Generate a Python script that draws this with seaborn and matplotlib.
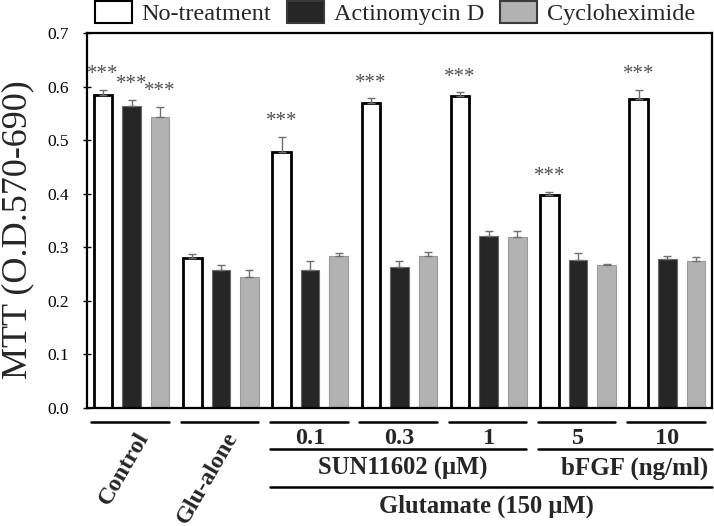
import numpy as np
import pandas as pd
import matplotlib
matplotlib.use("Agg")
import matplotlib.pyplot as plt
import seaborn as sns
from matplotlib.patches import Patch

# ---------------- data ----------------
groups = ["Control", "Glu-alone", "0.1", "0.3", "1", "5", "10"]
treatments = ["No-treatment", "Actinomycin D", "Cycloheximide"]
no_treat = [0.585, 0.280, 0.477, 0.569, 0.582, 0.398, 0.577]
no_treat_err = [0.009, 0.008, 0.029, 0.009, 0.007, 0.006, 0.017]
actino = [0.563, 0.257, 0.258, 0.263, 0.321, 0.277, 0.279]
actino_err = [0.012, 0.010, 0.017, 0.012, 0.009, 0.013, 0.005]
cyclo = [0.544, 0.245, 0.284, 0.284, 0.320, 0.267, 0.275]
cyclo_err = [0.018, 0.013, 0.006, 0.008, 0.010, 0.002, 0.007]
stars_no_treat = [True, False, True, True, True, True, True]
stars_actino = [True, False, False, False, False, False, False]
stars_cyclo = [True, False, False, False, False, False, False]

rotated_labels = ["Control", "Glu-alone"]
dose_labels = ["0.1", "0.3", "1", "5", "10"]
sun_label = "SUN11602 (\u03bcM)"
bfgf_label = "bFGF (ng/ml)"
glu_label = "Glutamate (150 \u03bcM)"
y_label = "MTT (O.D.570-690)"
y_ticks = [0.0, 0.1, 0.2, 0.3, 0.4, 0.5, 0.6, 0.7]

colors = ["#ffffff", "#262626", "#b2b2b2"]
edge_colors = ["#000000", "#6a6a6a", "#9a9a9a"]
edge_widths = [2.0, 0.8, 0.8]

df = pd.DataFrame({
    "group": groups * 3,
    "treatment": [t for t in treatments for _ in groups],
    "value": no_treat + actino + cyclo,
})
errs = [no_treat_err, actino_err, cyclo_err]
stars = [stars_no_treat, stars_actino, stars_cyclo]

# ---------------- figure ----------------
sns.set_theme(style="white")
plt.rcParams["font.family"] = ["Liberation Serif", "DejaVu Serif"]

fig = plt.figure(figsize=(7.14, 5.26), dpi=100)
ax = fig.add_axes([0.1218, 0.2243, 0.8752, 0.7129])

sns.barplot(data=df, x="group", y="value", hue="treatment", order=groups,
            hue_order=treatments, palette=colors, saturation=1, width=0.96,
            gap=0.35, errorbar=None, legend=False, ax=ax)

bar_containers = list(ax.containers)
for ci, cont in enumerate(bar_containers):
    for gi, bar in enumerate(cont.patches):
        bar.set_edgecolor(edge_colors[ci])
        bar.set_linewidth(edge_widths[ci])
        x = bar.get_x() + bar.get_width() / 2
        h = bar.get_height()
        e = errs[ci][gi]
        ax.errorbar([x], [h], yerr=[[0], [e]], fmt="none", ecolor="#707070",
                    elinewidth=1.0, capsize=2.6, capthick=1.0, zorder=1)
        if stars[ci][gi]:
            ax.annotate("***", xy=(x, h + e), xytext=(0, 4),
                        textcoords="offset points", ha="center", va="bottom",
                        fontsize=15, color="#505050")

ax.set_xlim(-0.5, 6.5)
ax.set_ylim(0, 0.7)
ax.set_yticks(y_ticks)
ax.set_yticklabels([f"{t:.1f}" for t in y_ticks], fontsize=12.5)
ax.set_xticks([])
ax.set_xlabel("")
ax.set_ylabel(y_label, fontsize=26)
ax.yaxis.set_label_coords(-0.085, 0.475)
ax.tick_params(axis="y", direction="inout", length=6, width=1, left=True,
               colors="black", pad=10)
for s in ax.spines.values():
    s.set_visible(True)
    s.set_color("black")
    s.set_linewidth(1.6)

# ---------------- bottom annotations ----------------
trans = matplotlib.transforms.blended_transform_factory(ax.transData, ax.transAxes)
lw = 1.8
for i in range(len(groups)):
    right = min(i + 0.42, 6.5)
    ax.plot([i - 0.45, right], [-0.037, -0.037], color="black", lw=lw,
            transform=trans, clip_on=False)

for i, lab in enumerate(rotated_labels):
    ax.text(i + 0.14, -0.068, lab, transform=trans, rotation=60,
            rotation_mode="anchor", ha="right", va="center",
            fontsize=17.5, fontweight="bold")

for j, lab in enumerate(dose_labels):
    ax.text(j + 2, -0.082, lab, transform=trans, ha="center", va="center",
            fontsize=17.5, fontweight="bold")

ax.plot([1.55, 4.42], [-0.109, -0.109], color="black", lw=lw,
        transform=trans, clip_on=False)
ax.plot([4.55, 6.5], [-0.109, -0.109], color="black", lw=lw,
        transform=trans, clip_on=False)
ax.text(3.04, -0.16, sun_label, transform=trans, ha="center", va="center",
        fontsize=17.7, fontweight="bold")
ax.text(5.63, -0.16, bfgf_label, transform=trans, ha="center", va="center",
        fontsize=18, fontweight="bold")
ax.plot([1.55, 6.5], [-0.211, -0.211], color="black", lw=lw,
        transform=trans, clip_on=False)
ax.text(3.98, -0.263, glu_label, transform=trans, ha="center", va="center",
        fontsize=17.7, fontweight="bold")

# ---------------- legend ----------------
handles = [Patch(facecolor=c, edgecolor="#000000" if i == 0 else "#3a3a3a",
                 linewidth=1.5) for i, c in enumerate(colors)]
fig.legend(handles, treatments, loc="upper left", bbox_to_anchor=(0.131, 1.0),
           ncol=3, frameon=False, fontsize=17.5, handlelength=1.52,
           handleheight=1.0, handletextpad=0.41, columnspacing=0.65,
           borderpad=0.05, borderaxespad=0.0)

fig.savefig("out.png", dpi=100)
